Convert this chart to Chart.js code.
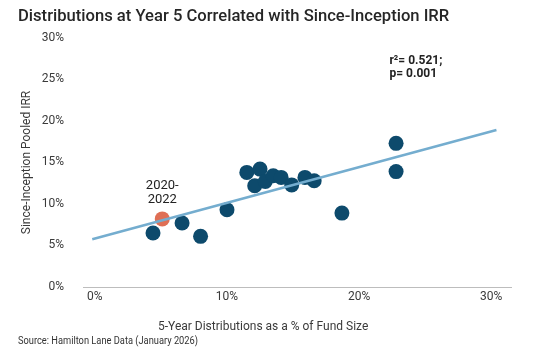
<!DOCTYPE html>
<html>
<head>
<meta charset="utf-8">
<script src="https://cdn.jsdelivr.net/npm/chart.js@4/dist/chart.umd.min.js"></script>
<style>
html,body{margin:0;padding:0;background:#fff;}
canvas{display:block;}
</style>
</head>
<body>
<canvas id="c" width="535" height="357"></canvas>
<script>
// ---- data ----
const distPct = [4.4, 6.6, 8.0, 10.0, 11.5, 12.5, 12.1, 12.9, 13.5, 14.1, 14.9, 15.9, 16.6, 18.7, 22.8, 22.8];
const irrPct  = [6.5, 7.7, 6.1, 9.3, 13.8, 14.2, 12.2, 12.7, 13.4, 13.2, 12.3, 13.2, 12.8, 8.9, 17.3, 13.9];
const highlightDist = [5.1];
const highlightIrr  = [8.2];
const trendX = [-0.2, 30.4];
const trendY = [5.75, 18.9];
const xTickValues = [0, 10, 20, 30];
const yTickValues = [0, 5, 10, 15, 20, 25, 30];

const TITLE = 'Distributions at Year 5 Correlated with Since-Inception IRR';
const X_TITLE = '5-Year Distributions as a % of Fund Size';
const Y_TITLE = 'Since-Inception Pooled IRR';
const SOURCE = 'Source: Hamilton Lane Data (January 2026)';
const HIGHLIGHT_LABEL = ['2020-', '2022'];
const STATS_LABEL = ['r\u00B2= 0.521;', 'p= 0.001'];

const NAVY = '#0d4a6c';
const ORANGE = '#df6f55';
const LINE = '#74adcf';
const TEXT = '#3a3a3a';

const pts = (xs, ys) => xs.map((x, i) => ({x: x, y: ys[i]}));

const annotations = {
  id: 'annotations',
  afterDatasetsDraw(chart) {
    const {ctx, scales: {x, y}} = chart;
    ctx.save();
    ctx.fillStyle = '#222';
    ctx.textAlign = 'center';
    ctx.textBaseline = 'middle';
    ctx.font = '13px Roboto';
    const hx = x.getPixelForValue(highlightDist[0]);
    ctx.fillText(HIGHLIGHT_LABEL[0], hx, y.getPixelForValue(12.2));
    ctx.fillText(HIGHLIGHT_LABEL[1], hx, y.getPixelForValue(10.5));
    ctx.textAlign = 'left';
    ctx.font = 'bold 12px Roboto';
    const sx = x.getPixelForValue(22.3);
    ctx.fillText(STATS_LABEL[0], sx, y.getPixelForValue(27.2));
    ctx.fillText(STATS_LABEL[1], sx, y.getPixelForValue(25.6));
    ctx.restore();
  },
  afterDraw(chart) {
    const ctx = chart.ctx;
    ctx.save();
    ctx.textBaseline = 'middle';
    ctx.textAlign = 'left';
    // x-axis title (offset left of plot centre, as in the reference)
    ctx.font = '12px Roboto';
    ctx.fillStyle = TEXT;
    ctx.fillText(X_TITLE, 158, 327);
    // condensed source note under the chart
    ctx.font = '11px Roboto';
    ctx.fillStyle = '#333';
    const w = ctx.measureText(SOURCE).width;
    const sc = 180 / w;
    ctx.translate(18, 341);
    ctx.scale(sc, 1);
    ctx.fillText(SOURCE, 0, 0);
    ctx.restore();
  }
};

new Chart(document.getElementById('c'), {
  type: 'scatter',
  data: {
    datasets: [
      {
        type: 'line',
        data: pts(trendX, trendY),
        borderColor: LINE,
        borderWidth: 2.5,
        pointRadius: 0,
        fill: false,
        order: 0
      },
      {
        data: pts(highlightDist, highlightIrr),
        backgroundColor: ORANGE,
        borderWidth: 0,
        pointRadius: 7.5,
        order: 1
      },
      {
        data: pts(distPct, irrPct),
        backgroundColor: NAVY,
        borderWidth: 0,
        pointRadius: 7.5,
        order: 2
      }
    ]
  },
  options: {
    responsive: false,
    animation: false,
    layout: {padding: {left: 18, right: 24, top: 0, bottom: 22}},
    plugins: {
      legend: {display: false},
      tooltip: {enabled: false},
      title: {
        display: true, text: TITLE, align: 'start', color: '#262626',
        font: {family: 'Roboto', size: 16.6, weight: '500'},
        padding: {top: 7, bottom: 11}
      }
    },
    scales: {
      x: {
        type: 'linear', min: -0.9, max: 31.5,
        afterBuildTicks: s => { s.ticks = xTickValues.map(v => ({value: v})); },
        afterFit: s => { s.height = 48; },
        grid: {display: false, drawTicks: false},
        border: {display: true, color: '#bdbdbd', width: 1},
        ticks: {padding: 3, color: TEXT, font: {family: 'Roboto', size: 12}, callback: v => v + '%'},
        title: {display: false}
      },
      y: {
        min: 0, max: 30,
        afterBuildTicks: s => { s.ticks = yTickValues.map(v => ({value: v})); },
        afterFit: s => { s.width = 65; },
        grid: {display: false, drawTicks: false},
        border: {display: false},
        ticks: {padding: 19, color: TEXT, font: {family: 'Roboto', size: 12}, callback: v => v + '%'},
        title: {display: true, text: Y_TITLE, color: TEXT, font: {family: 'Roboto', size: 12}, padding: {top: 2, bottom: 0}}
      }
    }
  },
  plugins: [annotations]
});
</script>
</body>
</html>
